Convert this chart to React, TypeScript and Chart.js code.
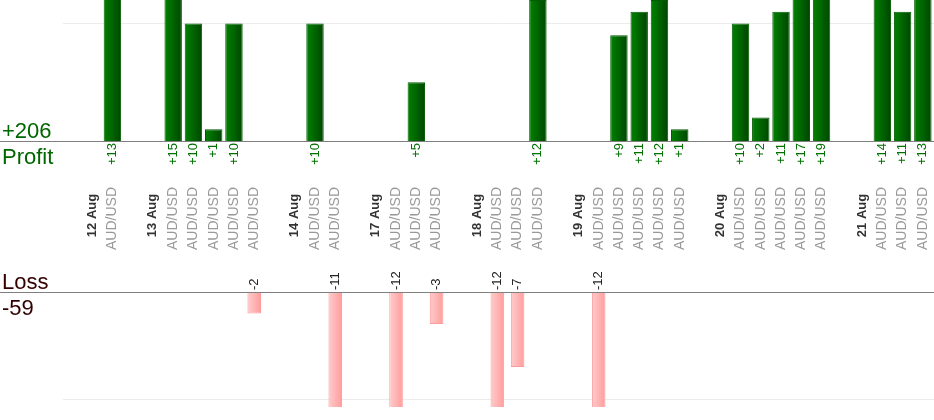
import { useEffect, useRef } from "react";
import { Chart, registerables } from "chart.js";

Chart.register(...registerables);

const FONT = '"Liberation Sans", Arial, sans-serif';

const SYMBOL = "AUD/USD";
const DAYS = ["12 Aug", "13 Aug", "14 Aug", "17 Aug", "18 Aug", "19 Aug", "20 Aug", "21 Aug"];
// pips of each closed trade, in order, per day
const DAY_PIPS = [
  [13],
  [15, 10, 1, 10, -2],
  [10, -11],
  [-12, 5, -3],
  [-12, -7, 12],
  [-12, 9, 11, 12, 1],
  [10, 2, 11, 17, 19],
  [14, 11, 13],
];
const PROFIT_GRID = [10];
const LOSS_GRID = [-10];

// one slot for the day, one per trade, an empty slot between days
const labels: string[] = [];
const isDay: boolean[] = [];
const profit: (number | null)[] = [];
const loss: (number | null)[] = [];
DAYS.forEach((day, d) => {
  labels.push(day);
  isDay.push(true);
  profit.push(null);
  loss.push(null);
  DAY_PIPS[d].forEach((p) => {
    labels.push(SYMBOL);
    isDay.push(false);
    profit.push(p > 0 ? p : null);
    loss.push(p < 0 ? p : null);
  });
  if (d < DAYS.length - 1) {
    labels.push("");
    isDay.push(false);
    profit.push(null);
    loss.push(null);
  }
});

const totalProfit = profit.reduce((s: number, v) => s + (v ?? 0), 0);
const totalLoss = loss.reduce((s: number, v) => s + (v ?? 0), 0);

const PROFIT_PCT = 0.86;
const LOSS_PCT = 0.67;

// horizontal shading across each bar
function sideShade(c: any, light: string, dark: string, pct: number) {
  const chart = c.chart;
  const xs = chart.scales?.x;
  if (!xs || c.dataIndex === undefined) return dark;
  const step = xs.getPixelForValue(1) - xs.getPixelForValue(0);
  const cx = xs.getPixelForValue(c.dataIndex);
  if (!isFinite(step) || !isFinite(cx) || step <= 0) return dark;
  const half = (step * pct) / 2;
  const g = chart.ctx.createLinearGradient(cx - half, 0, cx + half, 0);
  g.addColorStop(0, light);
  g.addColorStop(1, dark);
  return g;
}

function hline(ctx: CanvasRenderingContext2D, x0: number, x1: number, y: number, color: string) {
  const py = Math.round(y) + 0.5;
  ctx.save();
  ctx.strokeStyle = color;
  ctx.lineWidth = 1;
  ctx.beginPath();
  ctx.moveTo(x0, py);
  ctx.lineTo(x1, py);
  ctx.stroke();
  ctx.restore();
}

function upText(ctx: CanvasRenderingContext2D, text: string, x: number, y: number, align: CanvasTextAlign) {
  ctx.save();
  ctx.translate(x, y);
  ctx.rotate(-Math.PI / 2);
  ctx.textAlign = align;
  ctx.textBaseline = "middle";
  ctx.fillText(text, 0, 0);
  ctx.restore();
}

const profitDecor = {
  id: "profitDecor",
  beforeDatasetsDraw(chart: any) {
    const y = chart.scales.y;
    PROFIT_GRID.forEach((v) => hline(chart.ctx, 63, chart.width, y.getPixelForValue(v), "#ececec"));
  },
  afterDatasetsDraw(chart: any) {
    const { ctx } = chart;
    const { x, y } = chart.scales;
    const base = y.getPixelForValue(0);
    hline(ctx, 0, chart.width, base, "#808080");

    ctx.save();
    ctx.font = `13px ${FONT}`;
    ctx.fillStyle = "#007000";
    chart.getDatasetMeta(0).data.forEach((bar: any, i: number) => {
      const v = profit[i];
      if (v == null) return;
      upText(ctx, "+" + v, bar.x, base + 2, "right");
    });

    labels.forEach((lab, i) => {
      if (!lab) return;
      const px = x.getPixelForValue(i);
      if (isDay[i]) {
        ctx.font = `bold 13px ${FONT}`;
        ctx.fillStyle = "#333333";
        upText(ctx, lab, px, 215.5, "center");
      } else {
        ctx.font = `14px ${FONT}`;
        ctx.fillStyle = "#999999";
        upText(ctx, lab, px, 218.5, "center");
      }
    });

    ctx.font = `22px ${FONT}`;
    ctx.fillStyle = "#006600";
    ctx.textAlign = "left";
    ctx.textBaseline = "alphabetic";
    ctx.fillText("+" + totalProfit, 2, 138);
    ctx.fillText("Profit", 2, 163.5);
    ctx.restore();
  },
};

const lossDecor = {
  id: "lossDecor",
  beforeDatasetsDraw(chart: any) {
    const y = chart.scales.y;
    LOSS_GRID.forEach((v) => hline(chart.ctx, 63, chart.width, y.getPixelForValue(v), "#ececec"));
  },
  afterDatasetsDraw(chart: any) {
    const { ctx } = chart;
    const y = chart.scales.y;
    const base = y.getPixelForValue(0);
    hline(ctx, 0, chart.width, base, "#808080");

    ctx.save();
    ctx.font = `13px ${FONT}`;
    ctx.fillStyle = "#222222";
    chart.getDatasetMeta(0).data.forEach((bar: any, i: number) => {
      const v = loss[i];
      if (v == null) return;
      upText(ctx, String(v), bar.x, base - 2, "left");
    });

    ctx.font = `22px ${FONT}`;
    ctx.fillStyle = "#330000";
    ctx.textAlign = "left";
    ctx.textBaseline = "alphabetic";
    ctx.fillText("Loss", 2, 28.5);
    ctx.fillText(String(totalLoss), 2, 54.5);
    ctx.restore();
  },
};

function baseOptions(min: number, max: number, padTop: number, padBottom: number) {
  return {
    responsive: true,
    maintainAspectRatio: false,
    animation: false as const,
    events: [],
    layout: { padding: { left: 82, right: 1, top: padTop, bottom: padBottom } },
    plugins: { legend: { display: false }, tooltip: { enabled: false } },
    scales: {
      x: { type: "category" as const, display: false, offset: true },
      y: { display: false, min, max },
    },
  };
}

export default function App() {
  const topRef = useRef<HTMLCanvasElement>(null);
  const bottomRef = useRef<HTMLCanvasElement>(null);

  useEffect(() => {
    if (!topRef.current || !bottomRef.current) return;

    const top = new Chart(topRef.current, {
      type: "bar",
      data: {
        labels,
        datasets: [
          {
            data: profit,
            backgroundColor: (c: any) => sideShade(c, "#008200", "#004600", PROFIT_PCT),
            borderColor: "#005c00",
            borderWidth: 1,
            barPercentage: PROFIT_PCT,
            categoryPercentage: 1,
            clip: 0,
          },
        ],
      },
      options: baseOptions(0, 12, 0, 119) as any,
      plugins: [profitDecor],
    });

    const bottom = new Chart(bottomRef.current, {
      type: "bar",
      data: {
        labels,
        datasets: [
          {
            data: loss,
            backgroundColor: (c: any) => sideShade(c, "#ffcccc", "#ff9c9c", LOSS_PCT),
            borderColor: "#ff9a9a",
            borderWidth: 1,
            barPercentage: LOSS_PCT,
            categoryPercentage: 1,
            clip: 0,
          },
        ],
      },
      options: baseOptions(-10.75, 0, 32, 13) as any,
      plugins: [lossDecor],
    });

    return () => {
      top.destroy();
      bottom.destroy();
    };
  }, []);

  return (
    <div style={{ position: "absolute", left: 0, top: 0, width: 934, height: 420, background: "#fff" }}>
      <div style={{ position: "absolute", left: 0, top: 0, width: 934, height: 260 }}>
        <canvas ref={topRef} />
      </div>
      <div style={{ position: "absolute", left: 0, top: 260, width: 934, height: 160 }}>
        <canvas ref={bottomRef} />
      </div>
    </div>
  );
}
